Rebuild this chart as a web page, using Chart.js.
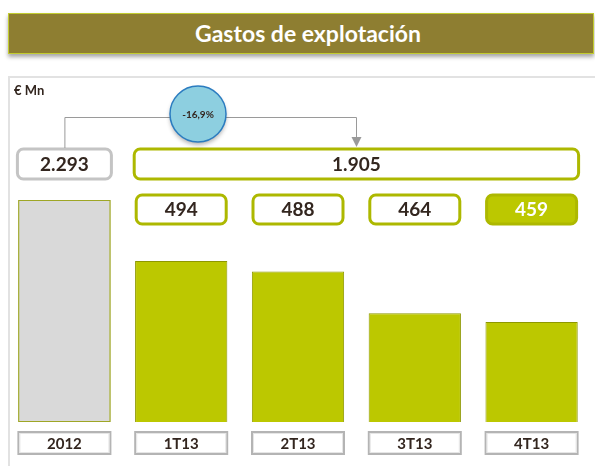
<!DOCTYPE html>
<html>
<head>
<meta charset="utf-8">
<script src="https://cdn.jsdelivr.net/npm/chart.js@4.4.0/dist/chart.umd.min.js"></script>
<style>
  body { margin: 0; background: #fff; font-family: Lato, sans-serif; }
  #wrap { position: relative; width: 595px; height: 466px; overflow: hidden; }
  #title {
    position: absolute; left: 8px; top: 13px; width: 586px; height: 41px;
    background: #8e7e31; border: 1px solid #c2cc30;
    box-shadow: 0 3px 4px rgba(0,0,0,0.35);
    color: #fff; font-weight: bold; font-size: 23px; line-height: 39px;
    text-align: center; box-sizing: border-box; padding-left: 14px;
  }
  #frame {
    position: absolute; left: 8px; top: 76px; width: 600px; height: 420px;
    border: 2px solid #e2e2e2;
  }
  canvas { position: absolute; left: 0; top: 0; }
</style>
</head>
<body>
<div id="wrap">
  <div id="title">Gastos de explotación</div>
  <div id="frame"></div>
  <canvas id="gastos" width="595" height="466"></canvas>
</div>
<script>
// data
const categories = ['2012', '1T13', '2T13', '3T13', '4T13'];
const gastos = [2293, 494, 488, 464, 459];
const unidad = '€ Mn';

const total2013 = gastos.slice(1).reduce((a, b) => a + b, 0);
const variacion = ((total2013 / gastos[0] - 1) * 100).toFixed(1).replace('.', ',') + '%';

const fmt = (n) => String(n).replace(/\B(?=(\d{3})+(?!\d))/g, '.');

const GREEN = '#bcc800';
const GREEN_DARK = '#8e9800';
const TEXT = '#33261f';

const roundBox = (ctx, x, y, w, h, r, stroke, fill, lw) => {
  ctx.beginPath();
  ctx.roundRect(x, y, w, h, r);
  ctx.fillStyle = fill;
  ctx.fill();
  ctx.lineWidth = lw;
  ctx.strokeStyle = stroke;
  ctx.stroke();
};

const overlay = {
  id: 'overlay',
  afterDatasetsDraw(chart) {
    const ctx = chart.ctx;
    const bars = chart.getDatasetMeta(0).data;
    const area = chart.chartArea;
    ctx.save();

    // outline of the first (clipped) bar
    const b0 = bars[0];
    ctx.strokeStyle = '#9ea626';
    ctx.lineWidth = 1;
    ctx.strokeRect(b0.x - b0.width / 2 + 0.5, area.top + 0.5, b0.width - 1, area.bottom - area.top - 1);

    ctx.textBaseline = 'middle';

    // unit
    ctx.textAlign = 'left';
    ctx.fillStyle = TEXT;
    ctx.font = 'bold 13px Lato';
    ctx.fillText(unidad, 14, 91);
    ctx.textAlign = 'center';

    // yearly totals
    const half = 47;
    roundBox(ctx, b0.x - half, 149, half * 2, 30, 6, '#c4c4c4', '#fff', 3);
    const x1 = bars[1].x - half, x2 = bars[4].x + half;
    roundBox(ctx, x1, 149, x2 - x1, 30, 6, '#adb800', '#fff', 3);
    ctx.fillStyle = TEXT;
    ctx.font = 'bold 19px Lato';
    ctx.fillText(fmt(gastos[0]), b0.x, 165);
    ctx.fillText(fmt(total2013), (x1 + x2) / 2, 165);

    // quarter values
    for (let i = 1; i < bars.length; i++) {
      const last = i === bars.length - 1;
      roundBox(ctx, bars[i].x - 45, 195, 90, 29, 6, '#adb800', last ? GREEN : '#fff', 3);
      ctx.fillStyle = last ? '#fff' : TEXT;
      ctx.fillText(fmt(gastos[i]), bars[i].x, 210);
    }

    // category labels
    ctx.font = 'bold 15px Lato';
    bars.forEach((bar, i) => {
      const x = bar.x - 46;
      ctx.fillStyle = '#fff';
      ctx.fillRect(x, 432, 92, 22);
      ctx.lineWidth = 2;
      ctx.strokeStyle = '#b4b4b4';
      ctx.strokeRect(x, 432, 92, 22);
      ctx.lineWidth = 1;
      ctx.strokeStyle = '#e6e6e6';
      ctx.strokeRect(x + 1.5, 433.5, 89, 19);
      ctx.fillStyle = TEXT;
      ctx.fillText(categories[i], bar.x, 444);
    });

    // connector
    const xa = b0.x + 0.5, xb = Math.round((x1 + x2) / 2) + 0.5;
    ctx.strokeStyle = '#9a9a9a';
    ctx.lineWidth = 1;
    ctx.beginPath();
    ctx.moveTo(xa, 148);
    ctx.lineTo(xa, 117.5);
    ctx.lineTo(xb, 117.5);
    ctx.lineTo(xb, 138);
    ctx.stroke();
    ctx.fillStyle = '#9a9a9a';
    ctx.beginPath();
    ctx.moveTo(xb - 5, 137);
    ctx.lineTo(xb + 5, 137);
    ctx.lineTo(xb, 147);
    ctx.closePath();
    ctx.fill();

    // variation bubble
    ctx.save();
    ctx.shadowColor = 'rgba(0,0,0,0.3)';
    ctx.shadowBlur = 4;
    ctx.shadowOffsetY = 3;
    ctx.beginPath();
    ctx.arc(198, 114, 28, 0, Math.PI * 2);
    ctx.fillStyle = '#8dcfe0';
    ctx.fill();
    ctx.restore();
    ctx.beginPath();
    ctx.arc(198, 114, 28, 0, Math.PI * 2);
    ctx.lineWidth = 1.5;
    ctx.strokeStyle = '#2b7cc0';
    ctx.stroke();
    ctx.fillStyle = TEXT;
    ctx.font = 'bold 10px Lato';
    ctx.fillText(variacion, 198, 115);

    ctx.restore();
  }
};

new Chart(document.getElementById('gastos'), {
  type: 'bar',
  data: {
    labels: categories,
    datasets: [{
      data: gastos,
      backgroundColor: gastos.map((v, i) => i === 0 ? '#d9d9d9' : GREEN),
      borderColor: gastos.map((v, i) => i === 0 ? '#9ea626' : GREEN_DARK),
      borderWidth: 1,
      borderSkipped: false,
      barPercentage: 0.79,
      categoryPercentage: 1,
      clip: 0
    }]
  },
  options: {
    responsive: false,
    animation: false,
    devicePixelRatio: 1,
    layout: { padding: { left: 6, right: 5, top: 200, bottom: 44 } },
    plugins: { legend: { display: false }, tooltip: { enabled: false } },
    scales: {
      x: { display: false },
      y: { display: false, min: 401.6, max: 529 }
    }
  },
  plugins: [overlay]
});
</script>
</body>
</html>
